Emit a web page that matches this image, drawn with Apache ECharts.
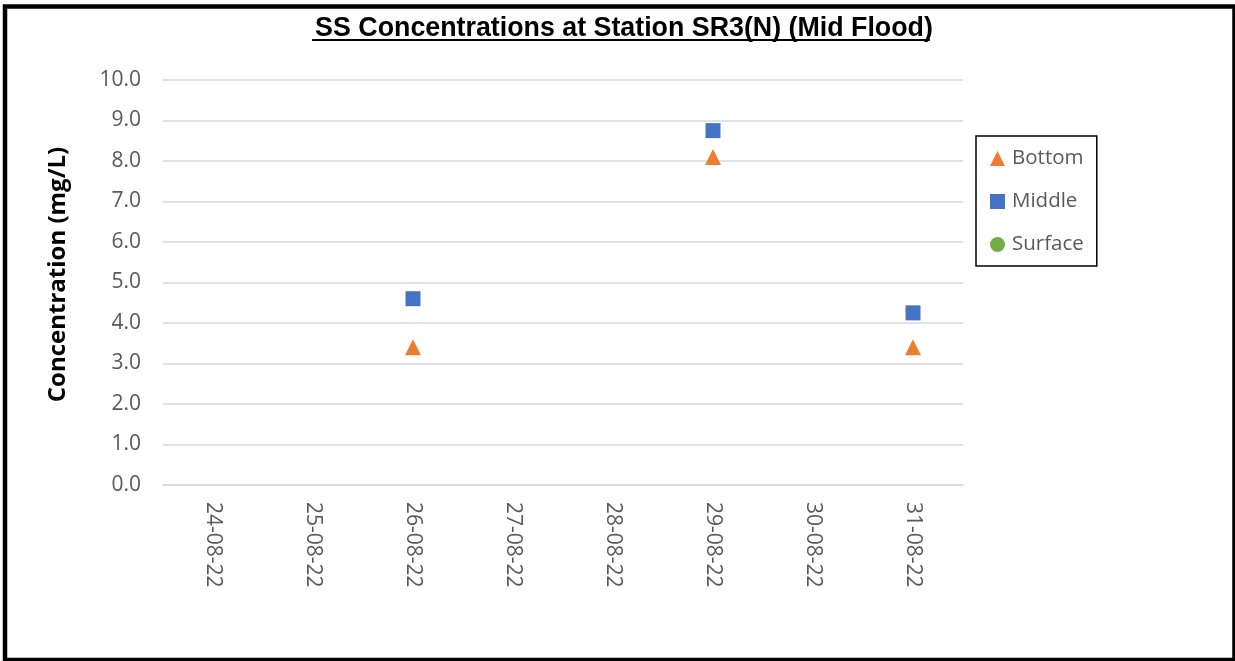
<!DOCTYPE html>
<html>
<head>
<meta charset="utf-8">
<script src="https://cdn.jsdelivr.net/npm/echarts@6/dist/echarts.min.js"></script>
<style>
  html, body { margin: 0; padding: 0; background: #fff; }
  #chart { width: 1235px; height: 661px; }
</style>
</head>
<body>
<div id="chart"></div>
<script>
// Sampling dates (category axis)
const dates = ['24-08-22', '25-08-22', '26-08-22', '27-08-22', '28-08-22', '29-08-22', '30-08-22', '31-08-22'];
// Suspended solids, mg/L, one value per date (null = no sample)
const bottom  = [null, null, 3.4, null, null, 8.1, null, 3.4];
const middle  = [null, null, 4.6, null, null, 8.75, null, 4.25];
const surface = [null, null, null, null, null, null, null, null];

const titleText = 'SS Concentrations at Station SR3(N) (Mid Flood)';
const titleFamily = '"Liberation Sans", Arial, sans-serif';
const titleSize = 26.8;
const labelFont = '"Open Sans", sans-serif';

// width of the title, used to size its underline
const ctx = document.createElement('canvas').getContext('2d');
ctx.font = 'bold ' + titleSize + 'px ' + titleFamily;
const titleW = ctx.measureText(titleText).width;
const titleCx = 619;

const chart = echarts.init(document.getElementById('chart'), null, { renderer: 'canvas' });

chart.setOption({
  animation: false,
  backgroundColor: '#fff',
  title: {
    text: titleText,
    left: titleCx, top: 10,
    textAlign: 'center',
    textStyle: { fontFamily: titleFamily, fontWeight: 'bold', fontSize: titleSize, color: '#000' }
  },
  graphic: [
    { type: 'rect', shape: { x: 5, y: 6.5, width: 1229.5, height: 653.5 }, style: { fill: 'none', stroke: '#000', lineWidth: 4.5 }, silent: true },
    { type: 'line', shape: { x1: titleCx - titleW / 2 + 2, y1: 40, x2: titleCx + titleW / 2 + 2, y2: 40 }, style: { stroke: '#000', lineWidth: 2 }, silent: true }
  ],
  legend: {
    orient: 'vertical',
    left: 976, top: 136,
    padding: [12, 13, 11, 14],
    itemGap: 22,
    itemWidth: 15, itemHeight: 15,
    borderColor: '#000', borderWidth: 1.5,
    textStyle: { fontFamily: labelFont, fontSize: 20.5, color: '#595959', padding: [0, 0, 0, 2] },
    data: [
      { name: 'Bottom', icon: 'triangle' },
      { name: 'Middle', icon: 'rect' },
      { name: 'Surface', icon: 'circle' }
    ]
  },
  grid: { left: 163, right: 272, top: 80, bottom: 176, containLabel: false },
  xAxis: {
    type: 'category',
    data: dates,
    boundaryGap: true,
    axisLine: { show: true, lineStyle: { color: '#d9d9d9', width: 1.5 } },
    axisTick: { show: false },
    axisLabel: { rotate: -90, margin: 17, fontFamily: labelFont, fontSize: 21, color: '#595959' },
    splitLine: { show: false }
  },
  yAxis: {
    type: 'value',
    min: 0, max: 10, interval: 1,
    name: 'Concentration (mg/L)',
    nameLocation: 'middle',
    nameGap: 93,
    nameRotate: 90,
    nameTextStyle: { fontFamily: labelFont, fontWeight: 'bold', fontSize: 24, color: '#000', padding: [0, 0, 0, 16] },
    axisLine: { show: false },
    axisTick: { show: false },
    axisLabel: { margin: 22, fontFamily: labelFont, fontSize: 21, color: '#595959', formatter: v => v.toFixed(1) },
    splitLine: { lineStyle: { color: '#d9d9d9', width: 1.5 } }
  },
  series: [
    { name: 'Bottom', type: 'scatter', symbol: 'triangle', symbolSize: 16, data: bottom, itemStyle: { color: '#ed7d31', opacity: 1 } },
    { name: 'Middle', type: 'scatter', symbol: 'rect', symbolSize: 15, data: middle, itemStyle: { color: '#4472c4', opacity: 1 } },
    { name: 'Surface', type: 'scatter', symbol: 'circle', symbolSize: 14, data: surface, itemStyle: { color: '#70ad47', opacity: 1 } }
  ]
});
</script>
</body>
</html>
